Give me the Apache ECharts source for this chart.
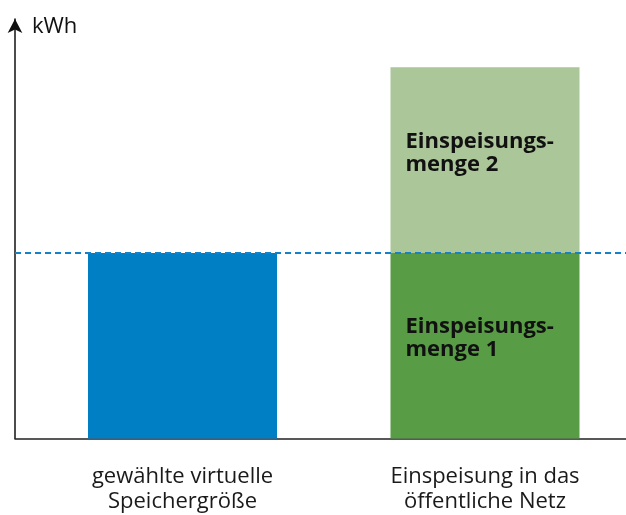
<!DOCTYPE html>
<html>
<head>
<meta charset="utf-8">
<script src="https://cdn.jsdelivr.net/npm/echarts@6/dist/echarts.min.js"></script>
<style>html,body{margin:0;padding:0;background:#fff}#c{width:626px;height:515px}</style>
</head>
<body>
<div id="c"></div>
<script>
var categories = ['gewählte virtuelle\nSpeichergröße', 'Einspeisung in das\nöffentliche Netz'];
var speicherValues = [5, null];
var menge1Values = [null, 5];
var menge2Values = [null, 5];
var referenceLevel = 5;
var axisMax = 11.3;
var unitName = 'kWh';
var menge1Label = 'Einspeisungs-\nmenge 1';
var menge2Label = 'Einspeisungs-\nmenge 2';

var FONT = 'Open Sans';
var chart = echarts.init(document.getElementById('c'), null, {renderer: 'canvas'});
var labelStyle = {
  show: true, position: 'insideLeft', distance: 15, offset: [0, -7],
  fontFamily: FONT, fontWeight: 'bold', fontSize: 22, lineHeight: 23, color: '#111', align: 'left'
};
chart.setOption({
  animation: false,
  grid: [
    {left: 15, right: 0, top: 19, bottom: 76.5, outerBoundsMode: 'none'},
    {left: 31.25, width: 605, top: 19, bottom: 76.5, outerBoundsMode: 'none', containLabel: false}
  ],
  xAxis: [
    {gridIndex: 0, type: 'value', min: 0, max: 1,
     axisLine: {show: true, lineStyle: {color: '#222', width: 1.5}},
     axisTick: {show: false}, axisLabel: {show: false}, splitLine: {show: false}},
    {gridIndex: 1, type: 'category', data: categories,
     axisLine: {show: false}, axisTick: {show: false}, splitLine: {show: false},
     axisLabel: {show: true, margin: 26, fontFamily: FONT, fontSize: 22, lineHeight: 25, color: '#1a1a1a'}}
  ],
  yAxis: [
    {gridIndex: 0, type: 'value', min: 0, max: axisMax,
     name: unitName, nameLocation: 'end', nameGap: -8,
     nameTextStyle: {fontFamily: FONT, fontSize: 22, color: '#111', align: 'left', verticalAlign: 'middle', padding: [0, 0, 0, 17]},
     axisLine: {show: true, symbol: ['none', 'arrow'], symbolSize: [11, 14], lineStyle: {color: '#111', width: 1.5}},
     axisTick: {show: false}, axisLabel: {show: false}, splitLine: {show: false}},
    {gridIndex: 1, type: 'value', min: 0, max: axisMax, show: false, splitLine: {show: false}}
  ],
  series: [
    {type: 'bar', xAxisIndex: 1, yAxisIndex: 1, stack: 's', data: speicherValues, barWidth: 189,
     itemStyle: {color: '#007fc5'}},
    {type: 'bar', xAxisIndex: 1, yAxisIndex: 1, stack: 's', data: menge1Values, barWidth: 189,
     itemStyle: {color: '#589c46'},
     label: Object.assign({}, labelStyle, {formatter: menge1Label})},
    {type: 'bar', xAxisIndex: 1, yAxisIndex: 1, stack: 's', data: menge2Values, barWidth: 189,
     itemStyle: {color: '#abc699'},
     label: Object.assign({}, labelStyle, {formatter: menge2Label})},
    {type: 'line', xAxisIndex: 0, yAxisIndex: 0, data: [], z: 10,
     markLine: {silent: true, symbol: ['none', 'none'], label: {show: false},
       lineStyle: {type: [6, 4], color: '#1581c9', width: 2},
       data: [{yAxis: referenceLevel}]}}
  ]
});
</script>
</body>
</html>
